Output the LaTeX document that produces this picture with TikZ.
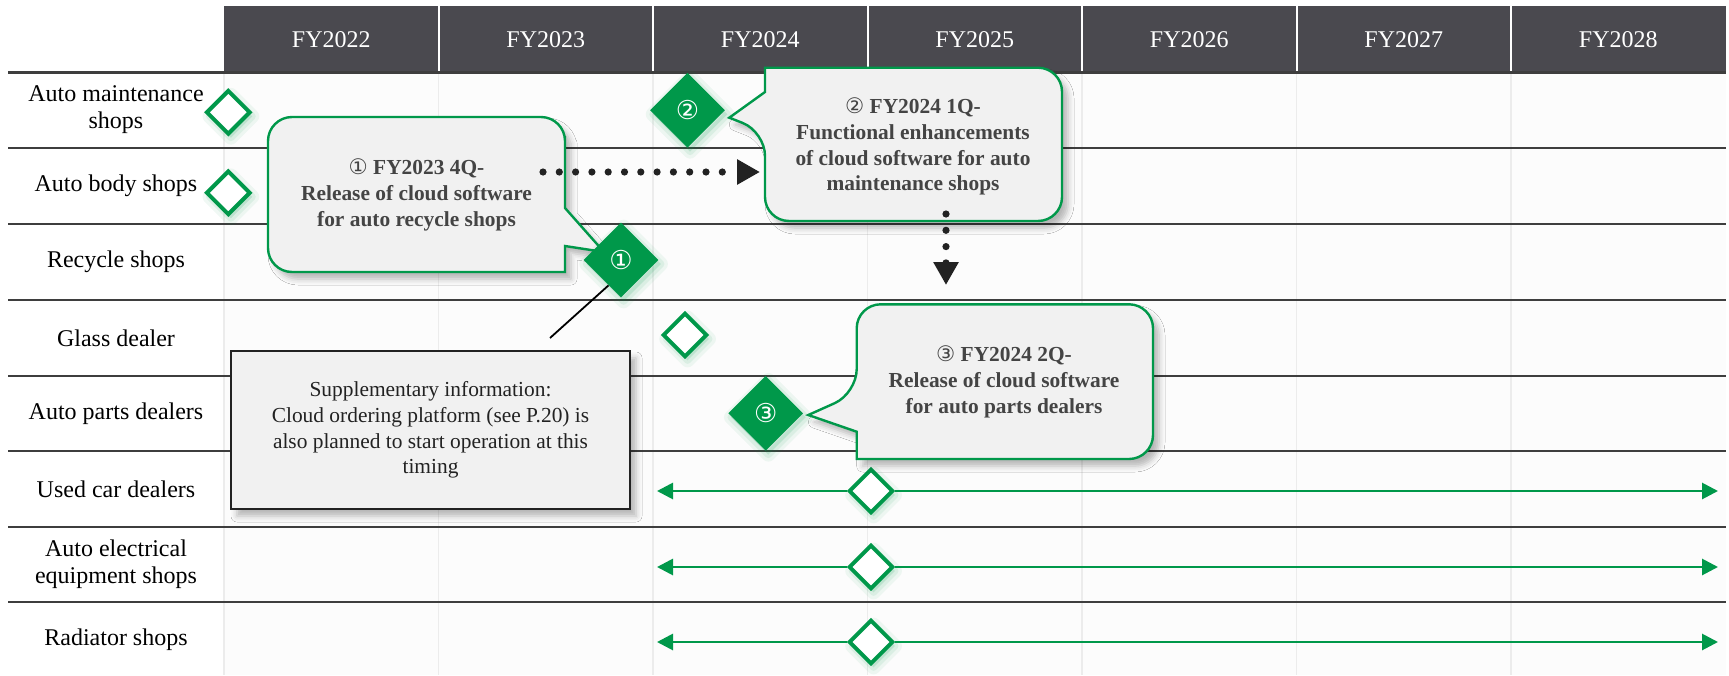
\documentclass[tikz,border=0pt]{standalone}
\usepackage{fontspec}
\setmainfont{Liberation Serif}
\newfontfamily\circfont{DejaVu Sans}
\usetikzlibrary{shapes.geometric,arrows.meta,calc,shadows.blur}

\definecolor{hdr}{HTML}{4A494F}
\definecolor{brand}{HTML}{00984A}
\definecolor{boxfill}{HTML}{F1F1F1}
\definecolor{calltext}{HTML}{444444}
\definecolor{rule}{HTML}{3E3E3E}
\definecolor{gridbg}{HTML}{FCFCFC}
\definecolor{gridline}{HTML}{ECECEC}
\definecolor{ink}{HTML}{222222}

\newcommand\cnum[1]{{\circfont\mdseries #1}}

\begin{document}
\begin{tikzpicture}[
  x=0.5pt, y=-0.5pt,
  rowlabel/.style={align=center, inner sep=0, text=black,
    font=\fontsize{12}{13.4}\selectfont},
  yearlabel/.style={inner sep=0, text=white, font=\fontsize{12}{14}\selectfont},
  glow/.style={
    preaction={draw=brand, fill=brand, opacity=0.06, line width=7pt,
      line join=round, transform canvas={shift={(1.3pt,-2pt)}}},
    preaction={draw=brand, fill=brand, opacity=0.08, line width=3.5pt,
      line join=round, transform canvas={shift={(1.3pt,-2pt)}}}},
  hollow/.style={diamond, aspect=1, draw=brand, line width=2pt, fill=white,
    minimum width=22.2pt, minimum height=22.2pt, inner sep=0, glow},
  milestone/.style={diamond, aspect=1, fill=brand, inner sep=0,
    minimum width=37.5pt, minimum height=37.5pt, text=white,
    font=\circfont\fontsize{13}{13}\selectfont, glow},
  softshadow/.style={blur shadow={shadow xshift=3pt, shadow yshift=-3.5pt,
      shadow blur radius=3pt, shadow opacity=28}},
  callout/.style={draw=brand, line width=1.2pt, fill=boxfill, softshadow},
  calltxt/.style={align=center, inner sep=0, text=calltext,
    font=\bfseries\fontsize{10.7}{12.9}\selectfont},
  notebox/.style={draw=ink, line width=1.4pt, fill=boxfill, inner sep=0,
    minimum width=199.5pt, minimum height=79pt, align=center, text=ink,
    font=\fontsize{10.7}{12.9}\selectfont, softshadow},
  span/.style={draw=brand, line width=1.4pt, -{Triangle[length=8pt,width=8pt]}},
  dotline/.style={draw=ink, line width=3.6pt, line cap=round,
    dash pattern=on 0pt off 8.15pt, -{Triangle[length=11.5pt,width=12pt]}},
  leader/.style={draw=black, line width=0.9pt}
]
\useasboundingbox (0,0) rectangle (1729,675);
\fill[white] (0,0) rectangle (1729,675);

% table body
\fill[gridbg] (224,72) rectangle (1726,675);
\foreach \x in {224,438.5,653,867.5,1082,1296.5,1511}
  \draw[gridline, line width=0.7pt] (\x,72) -- (\x,675);

% year header
\fill[hdr] (224,6) rectangle (1725.5,72);
\foreach \x in {438.5,653,867.5,1082,1296.5,1511}
  \draw[white, line width=1pt] (\x,6) -- (\x,72);
\foreach \yr [count=\i] in {2022,...,2028}
  \node[yearlabel] (fy\yr) at ({224+214.5*(\i-0.5)},40) {FY\yr};

% row rules
\foreach \y in {72.5,148,224,300,376,451,527,602}
  \draw[rule, line width=1.2pt] (8,\y) -- (1726,\y);

% row labels
\node[rowlabel] (lab1) at (116,110) {Auto maintenance\\shops};
\node[rowlabel] (lab2) at (116,186) {Auto body shops};
\node[rowlabel] (lab3) at (116,262) {Recycle shops};
\node[rowlabel] (lab4) at (116,338) {Glass dealer};
\node[rowlabel] (lab5) at (116,413.5) {Auto parts dealers};
\node[rowlabel] (lab6) at (116,489) {Used car dealers};
\node[rowlabel] (lab7) at (116,564.5) {Auto electrical\\equipment shops};
\node[rowlabel] (lab8) at (116,640) {Radiator shops};

% existing services
\node[hollow] (h1) at (228.3,112.3) {};
\node[hollow] (h2) at (228.3,192.8) {};
\node[hollow] (h4) at (685,335) {};

% services running through the whole period
\foreach \r/\y in {6/491,7/567,8/642}{
  \node[hollow] (h\r) at (871,\y) {};
  \coordinate (h\r l) at (657,\y);
  \coordinate (h\r r) at (1718,\y);
  \draw[span] (h\r) -- (h\r l);
  \draw[span] (h\r) -- (h\r r);
}

% supplementary note
\coordinate (noteend) at (550,338);
\node[notebox] (note) at (430.5,430) {Supplementary information:\\Cloud ordering platform (see P.20) is\\also planned to start operation at this\\timing};

% callout 1
\draw[callout] (565,160) [sharp corners] -- (565,208) -- (604,252) -- (565,246)
  -- (565,272) [rounded corners=12pt] -- (268,272) -- (268,117) -- (565,117) -- cycle;
\node[calltxt] (t1) at (416.5,195) {\cnum{①} FY2023 4Q-\\Release of cloud software\\for auto recycle shops};

% callout 2
\draw[callout] (900,221) [rounded corners=12pt] -- (765,221) -- (765,131.7)
  [sharp corners] -- (729.3,117.7) -- (765,92) -- (765,67.7)
  [rounded corners=12pt] -- (1062,67.7) -- (1062,221) -- cycle;
\node[calltxt] (t2) at (913,146.5) {\cnum{②} FY2024 1Q-\\Functional enhancements\\of cloud software for auto\\maintenance shops};

% callout 3
\draw[callout] (1000,304.3) [rounded corners=12pt] -- (856.7,304.3) -- (856.7,393.3)
  [sharp corners] -- (808.3,415) -- (856.7,431.7) -- (856.7,459)
  [rounded corners=12pt] -- (1153,459) -- (1153,304.3) -- cycle;
\node[calltxt] (t3) at (1004,382) {\cnum{③} FY2024 2Q-\\Release of cloud software\\for auto parts dealers};

% milestones
\node[milestone] (d1) at (621,260) {①};
\node[milestone] (d2) at (687.5,110.3) {②};
\node[milestone] (d3) at (765.7,413.3) {③};

\draw[leader] (noteend) -- ($(d1.south)!0.33!(d1.west)$);

% sequence arrows
\coordinate (s1) at (543,172);
\coordinate (s1end) at (765,172);
\draw[dotline, shorten >=2.5pt] (s1) -- (s1end);
\coordinate (s2) at (946,214);
\coordinate (s2end) at (946,285);
\draw[dotline] (s2) -- (s2end);
\end{tikzpicture}
\end{document}
